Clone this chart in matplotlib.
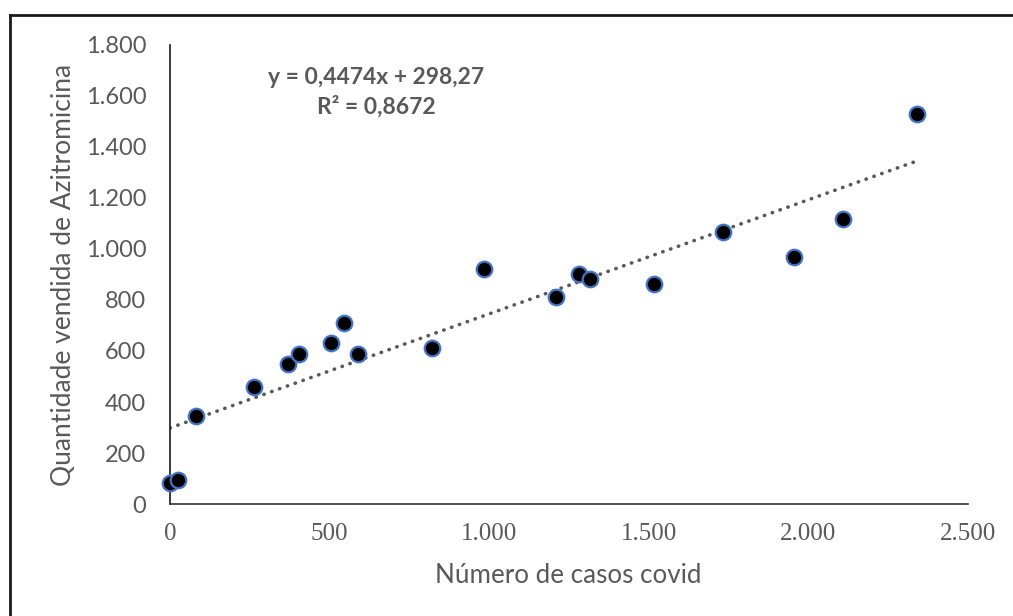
import numpy as np
import matplotlib
matplotlib.use('Agg')
import matplotlib.pyplot as plt
from matplotlib.lines import Line2D

# data
casos = [0, 26, 81, 263, 371, 405, 504, 545, 590, 820, 984,
         1208, 1281, 1316, 1515, 1733, 1956, 2107, 2339]
vendas = [84, 94, 346, 457, 548, 587, 630, 711, 587, 612, 921,
          813, 902, 881, 863, 1065, 970, 1118, 1529]
slope = 0.4474
intercept = 298.27
x_ticks = [0, 500, 1000, 1500, 2000, 2500]
x_ticklabels = ['0', '500', '1.000', '1.500', '2.000', '2.500']
y_ticks = [0, 200, 400, 600, 800, 1000, 1200, 1400, 1600, 1800]
y_ticklabels = ['0', '200', '400', '600', '800', '1.000', '1.200', '1.400', '1.600', '1.800']

gray = '#595959'
sans = 'Lato'

fig = plt.figure(figsize=(10.13, 6.16), dpi=100)
ax = fig.add_axes([0.1678, 0.1818, 0.7878, 0.7452])

# trend line
xt = np.array([min(casos), max(casos)])
ax.plot(xt, slope * xt + intercept, linestyle=(0, (0.1, 2.2)), dash_capstyle='round',
        color=gray, linewidth=2.6, zorder=2)

ax.scatter(casos, vendas, s=125, color='black', edgecolors='#4472C4',
           linewidths=1.6, zorder=3, clip_on=False)

ax.set_xlim(0, 2500)
ax.set_ylim(0, 1800)
ax.set_xticks(x_ticks)
ax.set_xticklabels(x_ticklabels, fontfamily='Liberation Serif', fontsize=18, color=gray)
ax.set_yticks(y_ticks)
ax.set_yticklabels(y_ticklabels, fontfamily=sans, fontsize=17, color=gray)
ax.tick_params(axis='both', length=0)
ax.tick_params(axis='y', pad=17)
ax.tick_params(axis='x', pad=14)

for s in ['top', 'right']:
    ax.spines[s].set_visible(False)
ax.spines['left'].set_color('#1a1a1a')
ax.spines['bottom'].set_color('#333333')
ax.spines['left'].set_linewidth(1.2)
ax.spines['bottom'].set_linewidth(1.2)

fig.text(0.0622, 0.553, 'Quantidade vendida de Azitromicina', rotation=90,
         ha='center', va='center', fontfamily=sans, fontsize=19, color=gray)
fig.text(0.5605, 0.066, 'Número de casos covid', ha='center', va='center',
         fontfamily=sans, fontsize=18.7, color=gray)

fig.text(0.371, 0.85, 'y = 0,4474x + 298,27\nR² = 0,8672', ha='center', va='center',
         fontfamily=sans, fontweight='bold', fontsize=16.5, color=gray,
         linespacing=1.42)

# outer border (only left and top visible)
fig.add_artist(Line2D([0.0095, 0.0095], [0, 0.976], transform=fig.transFigure,
                      color='#1a1a1a', linewidth=2))
fig.add_artist(Line2D([0.0095, 1.0], [0.976, 0.976], transform=fig.transFigure,
                      color='#1a1a1a', linewidth=2))

fig.savefig('out.png', dpi=100)
